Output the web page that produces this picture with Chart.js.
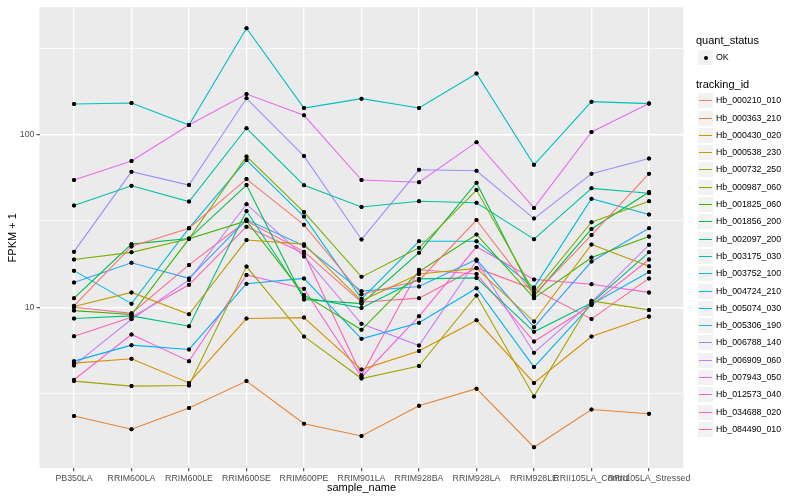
<!DOCTYPE html>
<html>
<head>
<meta charset="utf-8">
<script src="https://cdn.jsdelivr.net/npm/chart.js@4.4.1/dist/chart.umd.min.js"></script>
<style>
  body { margin: 0; background: #fff; }
  #wrap { position: relative; width: 800px; height: 500px; font-family: "Liberation Sans", Arial, sans-serif; }
  #chart { position: absolute; left: 0; top: 0; }
  .lg { position: absolute; white-space: nowrap; color: #000; }
  .key { position: absolute; width: 17px; height: 17px; background: #F2F2F2; box-sizing: border-box; border: 1px solid #fff; }
</style>
</head>
<body>
<div id="wrap">
  <canvas id="chart" width="800" height="500"></canvas>
  <div id="legend"></div>
</div>
<script>
// x categories (sample_name)
const categories = ['PB350LA', 'RRIM600LA', 'RRIM600LE', 'RRIM600SE', 'RRIM600PE', 'RRIM901LA',
    'RRIM928BA', 'RRIM928LA', 'RRIM928LE', 'RRII105LA_Control', 'RRII105LA_Stressed'];

// FPKM + 1 per tracking_id
const hb000210 = [10.2, 22.5, 28.7, 55.2, 30.0, 11.9, 14.3, 32.0, 11.8, 26.2, 59.3];
const hb000363 = [2.35, 1.97, 2.61, 3.74, 2.12, 1.80, 2.69, 3.38, 1.55, 2.56, 2.42];
const hb000430 = [4.75, 5.04, 3.65, 8.61, 8.72, 4.36, 5.58, 8.41, 3.65, 6.78, 8.84];
const hb000538 = [10.1, 12.2, 9.11, 24.5, 23.2, 10.9, 15.6, 16.8, 8.27, 23.1, 17.3];
const hb000732 = [3.74, 3.50, 3.53, 17.2, 6.78, 3.87, 4.57, 11.7, 3.05, 10.9, 9.66];
const hb000987 = [18.9, 20.8, 24.9, 74.7, 35.6, 15.0, 22.1, 47.7, 12.2, 31.1, 41.1];
const hb001825 = [9.57, 9.08, 24.9, 31.6, 11.8, 7.41, 16.1, 26.4, 11.3, 19.4, 25.7];
const hb001856 = [11.3, 23.2, 25.0, 51.0, 11.1, 10.5, 20.7, 52.6, 11.6, 28.4, 46.5];
const hb002097 = [8.61, 8.92, 7.77, 36.1, 11.4, 9.92, 14.6, 14.8, 7.21, 10.6, 20.8];
const hb003175 = [38.8, 50.5, 40.9, 108.7, 50.8, 38.1, 41.1, 40.3, 24.8, 48.8, 45.7];
const hb003752 = [150.1, 152.1, 113.6, 412, 142.3, 161.3, 142.3, 225.7, 66.8, 155.0, 151.0];
const hb004724 = [16.3, 10.5, 28.7, 71.1, 33.5, 11.2, 24.1, 24.1, 13.0, 42.5, 34.4];
const hb005074 = [4.88, 6.04, 5.70, 13.7, 14.7, 6.57, 8.13, 12.9, 4.51, 10.4, 16.0];
const hb005306 = [13.9, 18.1, 14.7, 32.2, 22.7, 12.4, 13.2, 18.9, 7.67, 18.4, 28.7];
const hb006788 = [21.0, 60.9, 51.0, 162, 75.0, 24.7, 62.5, 61.7, 32.6, 59.3, 72.7];
const hb006909 = [4.61, 8.53, 14.4, 39.5, 19.7, 8.02, 6.01, 18.6, 5.46, 10.7, 23.0];
const hb007943 = [54.5, 70.2, 113.6, 171.5, 129.2, 54.5, 52.9, 90.3, 37.6, 103.5, 151.0];
const hb012573 = [3.81, 6.96, 4.88, 15.4, 12.8, 3.95, 8.87, 22.4, 14.5, 13.6, 12.2];
const hb034688 = [6.80, 8.76, 13.5, 29.3, 20.5, 4.04, 16.5, 15.6, 6.34, 10.3, 18.9];
const hb084490 = [10.0, 9.23, 17.6, 31.6, 21.0, 10.7, 11.3, 16.9, 12.7, 8.57, 14.7];

const trackingIds = ['Hb_000210_010', 'Hb_000363_210', 'Hb_000430_020', 'Hb_000538_230', 'Hb_000732_250',
    'Hb_000987_060', 'Hb_001825_060', 'Hb_001856_200', 'Hb_002097_200', 'Hb_003175_030',
    'Hb_003752_100', 'Hb_004724_210', 'Hb_005074_030', 'Hb_005306_190', 'Hb_006788_140',
    'Hb_006909_060', 'Hb_007943_050', 'Hb_012573_040', 'Hb_034688_020', 'Hb_084490_010'];
const seriesValues = [hb000210, hb000363, hb000430, hb000538, hb000732, hb000987, hb001825, hb001856,
    hb002097, hb003175, hb003752, hb004724, hb005074, hb005306, hb006788, hb006909, hb007943,
    hb012573, hb034688, hb084490];
const colors = ['#F8766D', '#EA8331', '#D89000', '#C09B00', '#A3A500', '#7CAE00', '#39B600', '#00BB4E',
    '#00BF7D', '#00C1A3', '#00BFC4', '#00BAE0', '#00B0F6', '#35A2FF', '#9590FF', '#C77CFF',
    '#E76BF3', '#FA62DB', '#FF62BC', '#FF6C91'];

// y grid: majors labelled, minors in between (log space)
const yTicks = [3.1623, 10, 31.623, 100, 316.23];
const yLabels = {10: '10', 100: '100'};

const datasets = seriesValues.map((vals, i) => ({
    label: trackingIds[i],
    data: vals.map((v, j) => ({ x: j, y: v })),
    borderColor: colors[i],
    borderWidth: 1.1,
    pointRadius: 2,
    pointBorderWidth: 0,
    pointBackgroundColor: '#000',
    tension: 0
}));

// grey panel background
const panelBg = {
    id: 'panelBg',
    beforeDraw(chart) {
        const { ctx, chartArea: a } = chart;
        ctx.save();
        ctx.fillStyle = '#EBEBEB';
        ctx.fillRect(a.left, a.top, a.right - a.left, a.bottom - a.top);
        ctx.restore();
    },
    // points go on top of every line, like geom_point after geom_line
    afterDatasetsDraw(chart) {
        chart.data.datasets.forEach((ds, i) => {
            chart.getDatasetMeta(i).data.forEach(pt => pt.draw(chart.ctx, chart.chartArea));
        });
    }
};

const isMajor = (v) => Math.abs(v - 10) < 0.01 || Math.abs(v - 100) < 0.01;

new Chart(document.getElementById('chart'), {
    type: 'line',
    data: { datasets: datasets },
    plugins: [panelBg],
    options: {
        responsive: false,
        animation: false,
        events: [],
        layout: { padding: { left: 0, top: 5.7, right: 116.5, bottom: 0 } },
        plugins: { legend: { display: false }, tooltip: { enabled: false } },
        scales: {
            x: {
                type: 'linear',
                min: -0.6,
                max: 10.6,
                afterBuildTicks: (s) => { s.ticks = categories.map((c, i) => ({ value: i })); },
                afterFit: (s) => { s.height = 31.7; },
                border: { display: false },
                grid: { color: '#FFFFFF', lineWidth: 1.4, tickColor: '#333333', tickWidth: 1, tickLength: 3 },
                ticks: {
                    autoSkip: false, maxRotation: 0, minRotation: 0, padding: 1.5,
                    color: '#4D4D4D', font: { family: 'Liberation Sans', size: 8.8 },
                    callback: (v) => categories[Math.round(v)]
                },
                title: {
                    display: true, text: 'sample_name', color: '#000',
                    font: { family: 'Liberation Sans', size: 11 }, padding: { top: 0, bottom: 5 }
                }
            },
            y: {
                type: 'logarithmic',
                min: 1.17,
                max: 545,
                bounds: 'data',
                afterBuildTicks: (s) => { s.ticks = yTicks.map(v => ({ value: v })); },
                afterFit: (s) => { s.width = 39.5; },
                border: { display: false },
                grid: {
                    color: '#FFFFFF',
                    lineWidth: (c) => (c.tick && isMajor(c.tick.value)) ? 1.4 : 0.7,
                    tickColor: (c) => (c.tick && isMajor(c.tick.value)) ? '#333333' : 'rgba(0,0,0,0)',
                    tickWidth: 1,
                    tickLength: 3
                },
                ticks: {
                    padding: 2, color: '#4D4D4D', font: { family: 'Liberation Sans', size: 8.8 },
                    callback: (v) => yLabels[Math.round(v)] || ''
                },
                title: {
                    display: true, text: 'FPKM + 1', color: '#000',
                    font: { family: 'Liberation Sans', size: 11 }, padding: { top: 6, bottom: 0 }
                }
            }
        }
    }
});

// legend, ggplot style: two guides stacked on the right
const legend = document.getElementById('legend');
function addText(txt, x, cy, size) {
    const d = document.createElement('div');
    d.className = 'lg';
    d.textContent = txt;
    d.style.left = x + 'px';
    d.style.top = (cy - size * 0.6) + 'px';
    d.style.fontSize = size + 'px';
    d.style.lineHeight = (size * 1.2) + 'px';
    legend.appendChild(d);
}
function addKey(cy) {
    const k = document.createElement('div');
    k.className = 'key';
    k.style.left = '697px';
    k.style.top = Math.round(cy - 8.5) + 'px';
    legend.appendChild(k);
    return k;
}

addText('quant_status', 696, 40.7, 11);
const okKey = addKey(57);
const dot = document.createElement('div');
dot.style.cssText = 'position:absolute;left:5.5px;top:5.5px;width:4px;height:4px;border-radius:2px;background:#000;';
okKey.appendChild(dot);
addText('OK', 716, 57, 8.8);

addText('tracking_id', 696, 84.3, 11);
trackingIds.forEach((id, i) => {
    const cy = 100.7 + 17.3 * i;
    const k = addKey(cy);
    const ln = document.createElement('div');
    ln.style.cssText = 'position:absolute;left:1px;width:13px;top:7px;height:1px;background:' + colors[i] + ';';
    k.appendChild(ln);
    addText(id, 716, Math.round(cy - 8.5) + 8.5, 8.8);
});
</script>
</body>
</html>
